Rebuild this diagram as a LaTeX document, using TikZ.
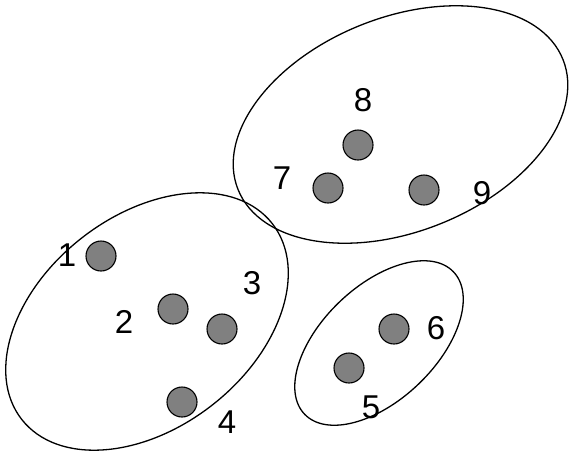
\documentclass[tikz,border=0pt]{standalone}
\usepackage{fontspec}
\setmainfont{Liberation Sans}
\begin{document}
\begin{tikzpicture}[x=1pt,y=-1pt,
  dot/.style={circle,draw=black,fill=gray,line width=1.1pt,minimum size=30pt,inner sep=0pt},
  lbl/.style={font=\fontsize{33}{33}\selectfont,inner sep=0pt},
  grp/.style={draw=black,line width=1.3pt}]
\useasboundingbox (0,0) rectangle (569,453);
\draw[grp] (147,321.5) ellipse[x radius=159,y radius=106,rotate=38];
\draw[grp] (400.5,124.5) ellipse[x radius=175,y radius=107,rotate=21.8];
\draw[grp] (379,343) ellipse[x radius=103,y radius=57,rotate=43.7];
\node[dot] (d1) at (101,256) {};
\node[dot] (d2) at (173,309) {};
\node[dot] (d3) at (222,329) {};
\node[dot] (d4) at (182,402) {};
\node[dot] (d5) at (349,368) {};
\node[dot] (d6) at (394,329) {};
\node[dot] (d7) at (328,188) {};
\node[dot] (d8) at (358,145) {};
\node[dot] (d9) at (424,190) {};
\node[lbl] (l1) at (67,255) {1};
\node[lbl] (l2) at (124,322) {2};
\node[lbl] (l3) at (252,283) {3};
\node[lbl] (l4) at (227,422) {4};
\node[lbl] (l5) at (371,407) {5};
\node[lbl] (l6) at (436,328) {6};
\node[lbl] (l7) at (282,178) {7};
\node[lbl] (l8) at (363,100) {8};
\node[lbl] (l9) at (482,193) {9};
\end{tikzpicture}
\end{document}
